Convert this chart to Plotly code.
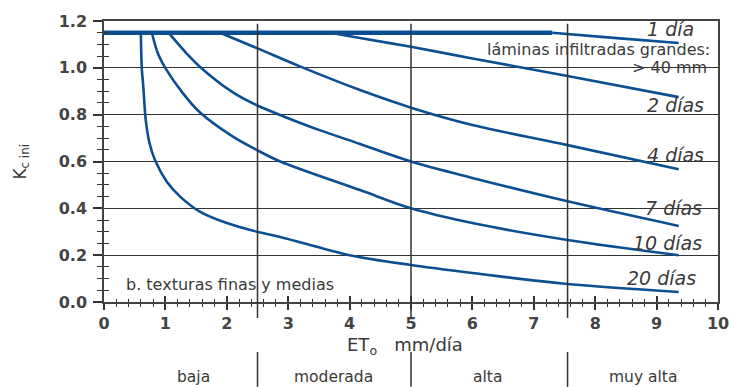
import plotly.graph_objects as go

# ---- data ----
base_x = [0.0, 7.3]
base_y = [1.15, 1.15]

d1_x = [7.3, 8.3, 9.36]
d1_y = [1.15, 1.128, 1.106]

d2_x = [3.68, 4.17, 5.0, 6.0, 7.55, 9.36]
d2_y = [1.15, 1.127, 1.09, 1.04, 0.965, 0.875]

d4_x = [1.89, 2.5, 3.2, 4.17, 5.0, 6.0, 7.55, 9.36]
d4_y = [1.15, 1.083, 1.005, 0.905, 0.83, 0.756, 0.67, 0.567]

d7_x = [1.05, 1.35, 1.56, 2.1, 2.49, 3.0, 3.5, 4.17, 5.0, 6.0, 7.55, 9.36]
d7_y = [1.15, 1.06, 1.005, 0.895, 0.84, 0.785, 0.735, 0.675, 0.60, 0.53, 0.43, 0.325]

d10_x = [0.78, 0.88, 1.02, 1.29, 1.56, 2.1, 2.49, 2.87, 4.17, 5.0, 6.0, 7.55, 9.36]
d10_y = [1.15, 1.06, 0.99, 0.89, 0.81, 0.706, 0.649, 0.60, 0.478, 0.40, 0.337, 0.265, 0.20]

d20_x = [0.60, 0.615, 0.64, 0.68, 0.74, 0.83, 1.02, 1.24, 1.56, 2.0, 2.49, 2.87, 4.0, 5.0, 6.0, 7.55, 9.36]
d20_y = [1.15, 1.0, 0.92, 0.777, 0.68, 0.606, 0.515, 0.45, 0.386, 0.337, 0.30, 0.278, 0.20, 0.158, 0.124, 0.077, 0.043]

curve_labels = ["1 día", "2 días", "4 días", "7 días", "10 días", "20 días"]
label_x = [9.22, 9.3, 9.3, 9.27, 9.17, 9.08]
label_y = [1.165, 0.84, 0.628, 0.40, 0.252, 0.102]

class_names = ["baja", "moderada", "alta", "muy alta"]
class_x = [1.45, 3.73, 6.25, 8.78]
class_bounds = [2.5, 5.0, 7.55]

BLUE = "#0b4f92"
GRID = "#333333"
TXT = "#3a3a3a"
FONT = "DejaVu Sans"

fig = go.Figure()

fig.add_trace(go.Scatter(x=base_x, y=base_y, mode="lines",
                         line=dict(color=BLUE, width=4.5), hoverinfo="skip"))
for xs, ys in [(d1_x, d1_y), (d2_x, d2_y), (d4_x, d4_y), (d7_x, d7_y),
               (d10_x, d10_y), (d20_x, d20_y)]:
    fig.add_trace(go.Scatter(x=xs, y=ys, mode="lines",
                             line=dict(color=BLUE, width=2.6, shape="spline", smoothing=0.9),
                             hoverinfo="skip"))

# invisible trace to make the overlay axes (inner ticks) render
fig.add_trace(go.Scatter(x=[None], y=[None], xaxis="x2", yaxis="y2",
                         mode="lines", hoverinfo="skip"))

tickfont = dict(family=FONT, size=16, color="#444", weight="bold")

fig.update_layout(
    width=732, height=387,
    margin=dict(l=104, r=14, t=21, b=85, autoexpand=False),
    paper_bgcolor="white", plot_bgcolor="white",
    showlegend=False,
    xaxis=dict(range=[0, 10], dtick=1, tick0=0, showgrid=False, zeroline=False,
               showline=True, linecolor="#444", linewidth=1.5, mirror=True,
               ticks="outside", ticklen=6, tickwidth=1.5, tickcolor="#333",
               minor=dict(dtick=0.2, ticks="outside", ticklen=3, tickwidth=1.2, tickcolor="#333"),
               tickfont=tickfont, fixedrange=True, automargin=False),
    yaxis=dict(range=[0, 1.2], dtick=0.2, tick0=0, tickformat=".1f",
               showgrid=True, gridcolor=GRID, gridwidth=1, zeroline=False,
               showline=True, linecolor="#444", linewidth=1.5, mirror=True,
               ticks="outside", ticklen=9, tickwidth=1.5, tickcolor="#333",
               ticklabelstandoff=3,
               minor=dict(dtick=0.05, ticks="outside", ticklen=5, tickwidth=1.2, tickcolor="#333"),
               tickfont=tickfont, fixedrange=True, automargin=False),
    xaxis2=dict(range=[0, 10], overlaying="x", anchor="y2", side="bottom",
                dtick=1, tick0=0, showgrid=False, zeroline=False, showline=False,
                showticklabels=False, ticks="inside", ticklen=6, tickwidth=1.5, tickcolor="#333",
                minor=dict(dtick=0.2, ticks="inside", ticklen=3, tickwidth=1.2, tickcolor="#333"),
                automargin=False),
    yaxis2=dict(range=[0, 1.2], overlaying="y", anchor="x2", side="left",
                dtick=0.2, tick0=0, showgrid=False, zeroline=False, showline=False,
                showticklabels=False, ticks="",
                minor=dict(dtick=0.05, ticks="inside", ticklen=5, tickwidth=1.2, tickcolor="#333"),
                automargin=False),
)

# vertical class boundaries
for bx in class_bounds:
    fig.add_shape(type="line", xref="x", yref="paper", x0=bx, x1=bx, y0=-0.057, y1=0.99,
                  line=dict(color="#333", width=1.5), layer="above")
    fig.add_shape(type="line", xref="x", yref="paper", x0=bx, x1=bx, y0=-0.302, y1=-0.178,
                  line=dict(color="#333", width=1.5))

# curve labels
for t, lx, ly in zip(curve_labels, label_x, label_y):
    fig.add_annotation(x=lx, y=ly, xref="x", yref="y", text="<i>" + t + "</i>",
                       showarrow=False, font=dict(family=FONT, size=19, color=TXT),
                       xanchor="center", yanchor="middle")

fig.add_annotation(x=9.9, y=1.08, xref="x", yref="y", text="láminas infiltradas grandes:",
                   showarrow=False, font=dict(family=FONT, size=16, color=TXT),
                   xanchor="right", yanchor="middle")
fig.add_annotation(x=9.85, y=1.0, xref="x", yref="y", text="&gt; 40 mm",
                   showarrow=False, font=dict(family=FONT, size=16, color=TXT),
                   xanchor="right", yanchor="middle")
fig.add_annotation(x=0.33, y=0.073, xref="x", yref="y", text="b. texturas finas y medias",
                   showarrow=False, font=dict(family=FONT, size=16, color=TXT),
                   xanchor="left", yanchor="middle")

# class names
for t, cx in zip(class_names, class_x):
    fig.add_annotation(x=cx, y=-0.267, xref="x", yref="paper", text=t, showarrow=False,
                       font=dict(family=FONT, size=15.5, color=TXT),
                       xanchor="center", yanchor="middle")

# axis titles
fig.add_annotation(x=4.9, y=-0.155, xref="x", yref="paper",
                   text="ET<sub>o</sub>&nbsp;&nbsp;&nbsp;mm/día", showarrow=False,
                   font=dict(family=FONT, size=18, color=TXT),
                   xanchor="center", yanchor="middle")
fig.add_annotation(x=-0.135, y=0.5, xref="paper", yref="paper",
                   text="K<sub>c ini</sub>", textangle=-90, showarrow=False,
                   font=dict(family=FONT, size=17, color=TXT),
                   xanchor="center", yanchor="middle")

fig.write_html("out.html", config={"displayModeBar": False},
               post_script="document.body.style.margin='0';")
